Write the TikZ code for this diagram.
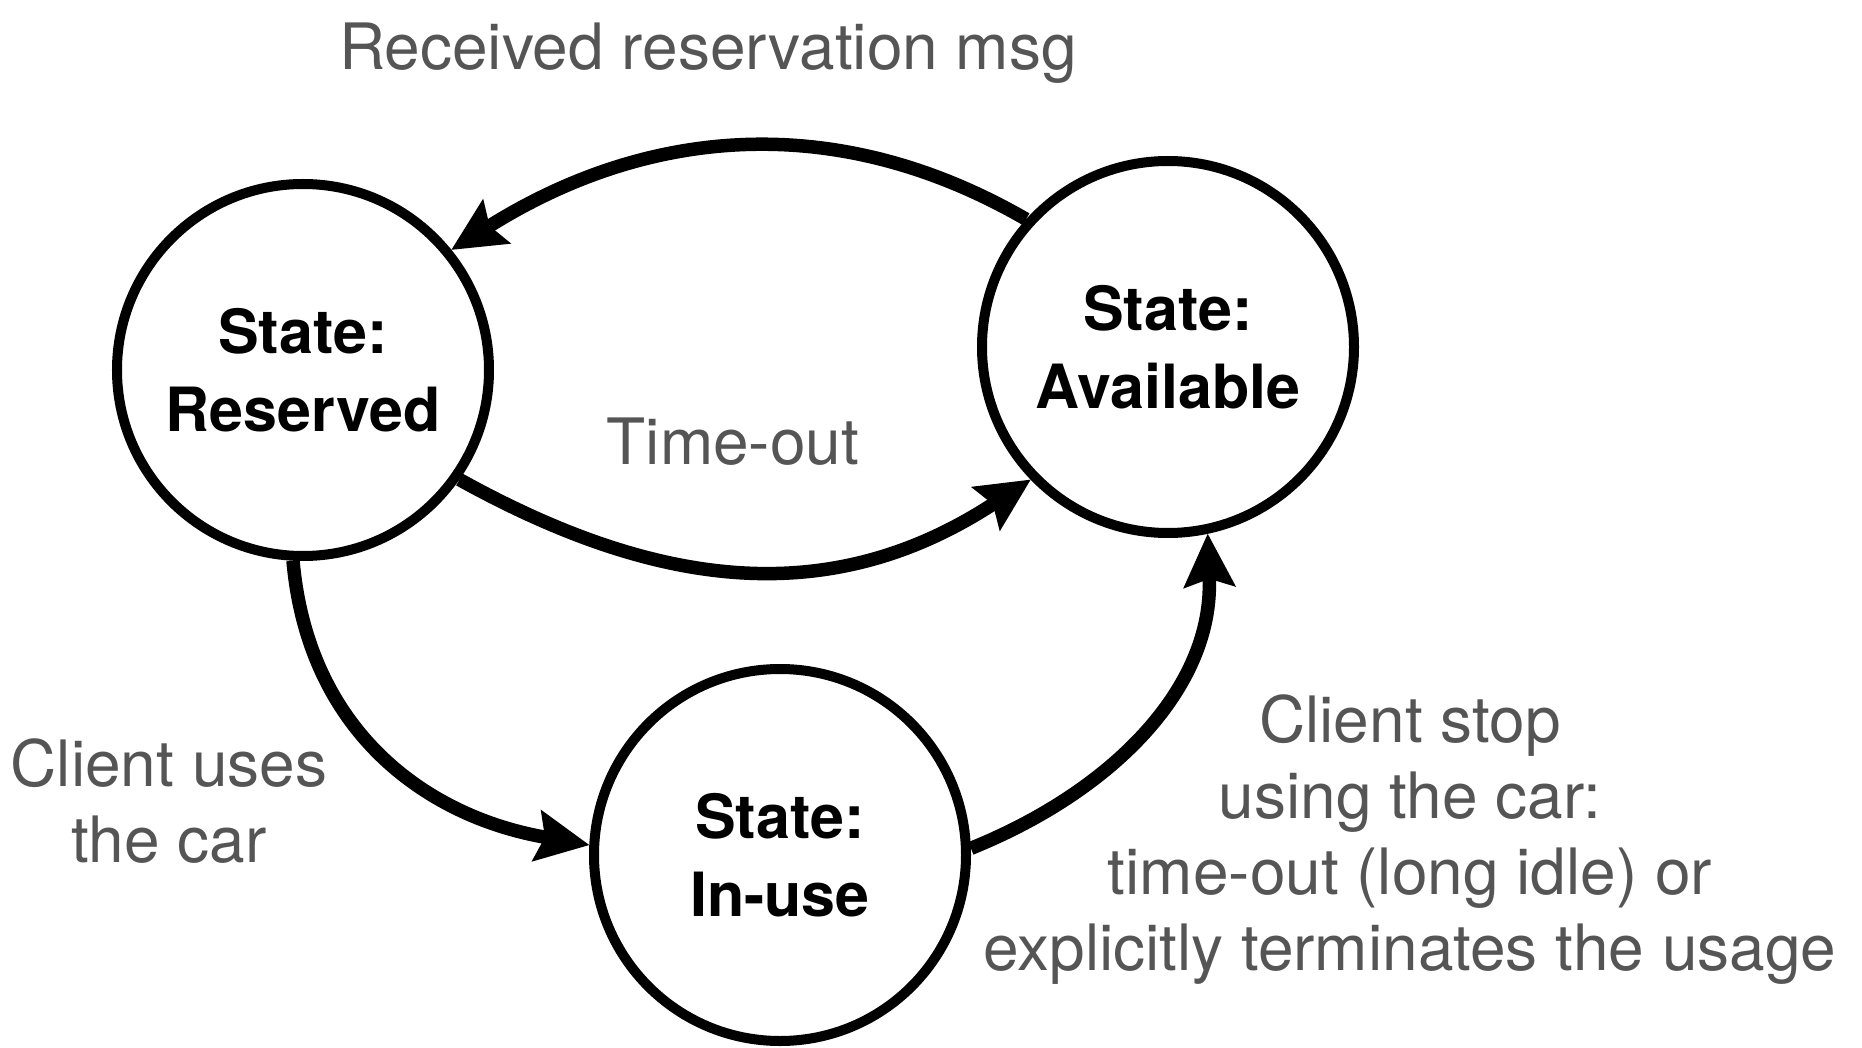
\documentclass[tikz,border=0pt]{standalone}
\usepackage{fontspec}
\setmainfont{TeX Gyre Heros}
\usetikzlibrary{arrows.meta,positioning}
\definecolor{labelgray}{HTML}{555555}
\tikzset{
  state/.style={circle, draw, line width=0.2cm, minimum size=7.44cm, inner sep=0pt, align=center,
    font=\fontsize{34.7pt}{44.4pt}\selectfont\bfseries},
  msg/.style={text=labelgray, align=center, inner sep=0pt, anchor=base,
    font=\fontsize{36.4pt}{43.1pt}\selectfont},
  trans/.style={line width=0.27cm, -{Stealth[length=1.08cm, width=1.06cm, inset=0.18cm, line width=0pt]}},
}

\begin{document}
\begin{tikzpicture}
\useasboundingbox (-6.06,7.40) rectangle (31.18,-13.56);

%% STATES
\node[state](reserved){State:\\Reserved};
\node[state, right=9.66cm of reserved, yshift=0.46cm](available){State:\\Available};
\node[state, below=2.06cm of reserved, xshift=9.54cm](inuse){State:\\In-use};

%% TRANSITIONS
\draw[trans] (available.138) to[out=150, in=32, looseness=1.0] (reserved.39);
\draw[trans] (reserved.-35) to[out=-29, in=-147, looseness=1.05] (available.-136);
\draw[trans] (reserved.-93) to[out=-85, in=170, looseness=1.05] (inuse.177);
\draw[trans] (inuse.2) to[out=22, in=-88] (available.-78);

%% LABELS
\node[msg](msg_received) at (8.10,6.00){Received reservation msg};
\node[msg](msg_timeout) at (8.60,-1.88){Time-out};
\node[msg](msg_uses) at (-2.68,-9.84){Client uses\\the car};
\node[msg](msg_stop) at (22.14,-12.00){Client stop\\using the car:\\time-out (long idle) or\\explicitly terminates the usage};

\end{tikzpicture}
\end{document}
